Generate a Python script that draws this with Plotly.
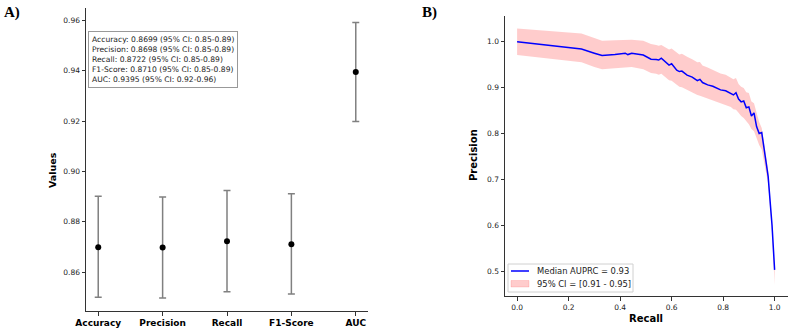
import plotly.graph_objects as go

# ---- Panel A data ----
metrics = ["Accuracy", "Precision", "Recall", "F1-Score", "AUC"]
values = [0.8699, 0.8698, 0.8722, 0.8710, 0.9395]
ci_low = [0.8500, 0.8497, 0.8522, 0.8513, 0.9199]
ci_high = [0.8901, 0.8898, 0.8924, 0.8911, 0.9592]
a_yticks = [0.86, 0.88, 0.90, 0.92, 0.94, 0.96]

# ---- Panel B data ----
recall = [0.00, 0.10, 0.20, 0.25, 0.30, 0.33, 0.38, 0.42, 0.43, 0.445, 0.49, 0.52, 0.54, 0.55, 0.56,
          0.58, 0.59, 0.60, 0.62, 0.63, 0.64, 0.66, 0.68, 0.70, 0.71, 0.72, 0.74, 0.76, 0.78, 0.79,
          0.81, 0.83, 0.84, 0.85, 0.86, 0.87, 0.88, 0.89, 0.90, 0.91, 0.92, 0.93, 0.94, 0.95, 0.96,
          0.97, 0.975, 0.98, 0.99, 1.00]
prec_median = [1.000, 0.994, 0.988, 0.984, 0.975, 0.970, 0.972, 0.975, 0.972, 0.975, 0.971, 0.962, 0.961, 0.960, 0.964,
               0.955, 0.949, 0.952, 0.938, 0.935, 0.936, 0.927, 0.923, 0.915, 0.918, 0.911, 0.906, 0.903, 0.897, 0.895,
               0.893, 0.887, 0.884, 0.889, 0.875, 0.869, 0.871, 0.856, 0.858, 0.838, 0.845, 0.815, 0.800, 0.802, 0.760,
               0.720, 0.706, 0.670, 0.600, 0.503]
prec_low = [0.971, 0.965, 0.959, 0.955, 0.945, 0.940, 0.942, 0.944, 0.943, 0.945, 0.940, 0.932, 0.930, 0.928, 0.930,
            0.921, 0.916, 0.915, 0.905, 0.902, 0.901, 0.895, 0.889, 0.884, 0.882, 0.880, 0.877, 0.873, 0.868, 0.866,
            0.863, 0.858, 0.853, 0.852, 0.845, 0.838, 0.834, 0.827, 0.820, 0.810, 0.805, 0.790, 0.775, 0.765, 0.735,
            0.700, 0.690, 0.655, 0.585, 0.470]
prec_high = [1.029, 1.024, 1.020, 1.018, 1.008, 1.002, 1.003, 1.004, 1.003, 1.004, 1.002, 0.995, 0.993, 0.991, 0.993,
             0.987, 0.983, 0.985, 0.976, 0.972, 0.974, 0.967, 0.962, 0.955, 0.956, 0.948, 0.944, 0.939, 0.933, 0.931,
             0.928, 0.922, 0.918, 0.921, 0.908, 0.902, 0.899, 0.890, 0.888, 0.870, 0.866, 0.845, 0.825, 0.812, 0.780,
             0.740, 0.720, 0.680, 0.610, 0.510]
median_auprc = 0.93
auprc_ci = (0.91, 0.95)
b_xticks = [0.0, 0.2, 0.4, 0.6, 0.8, 1.0]
b_yticks = [0.5, 0.6, 0.7, 0.8, 0.9, 1.0]

W, H = 796, 332
TICKFONT = dict(family="DejaVu Sans", size=7.5, color="#222")
BAND_COLOR = "rgba(255,0,0,0.2)"
LINE_COLOR = "blue"

fig = go.Figure()

# Panel A: points with CI error bars
fig.add_trace(go.Scatter(
    x=metrics, y=values, mode="markers",
    marker=dict(color="black", size=6),
    error_y=dict(type="data", symmetric=False,
                 array=[h - v for h, v in zip(ci_high, values)],
                 arrayminus=[v - l for v, l in zip(values, ci_low)],
                 color="#808080", thickness=1.5, width=3.5),
    showlegend=False, xaxis="x", yaxis="y", hoverinfo="skip"))

# Panel B: CI band + median curve
fig.add_trace(go.Scatter(x=recall, y=prec_low, mode="lines", line=dict(width=0, color="rgba(255,0,0,0)"),
                         showlegend=False, xaxis="x2", yaxis="y2", hoverinfo="skip"))
fig.add_trace(go.Scatter(x=recall, y=prec_high, mode="lines", line=dict(width=0, color="rgba(255,0,0,0)"),
                         fill="tonexty", fillcolor=BAND_COLOR, showlegend=False,
                         xaxis="x2", yaxis="y2", hoverinfo="skip"))
fig.add_trace(go.Scatter(x=recall, y=prec_median, mode="lines", line=dict(color=LINE_COLOR, width=1.5),
                         showlegend=False, xaxis="x2", yaxis="y2", hoverinfo="skip"))

axis_common = dict(showline=True, linecolor="#333", linewidth=1, ticks="outside", ticklen=3.5,
                   tickcolor="#333", tickwidth=1, showgrid=False, zeroline=False, automargin=False,
                   mirror=False)

fig.update_layout(
    width=W, height=H, margin=dict(l=0, r=0, t=0, b=0),
    paper_bgcolor="white", plot_bgcolor="white", showlegend=False,
    xaxis=dict(domain=[86 / W, 368 / W], range=[-0.19, 4.19], anchor="y",
               tickvals=metrics, ticktext=[f"<b>{m}</b>" for m in metrics],
               tickfont=dict(family="DejaVu Sans", size=9, color="black"), **axis_common),
    yaxis=dict(domain=[1 - 311 / H, 1 - 8 / H], range=[0.8445, 0.965], anchor="x",
               tickvals=a_yticks, ticktext=[f"{t:.2f}" for t in a_yticks], tickfont=TICKFONT, **axis_common),
    xaxis2=dict(domain=[505 / W, 788 / W], range=[-0.047, 1.052], anchor="y2",
                tickvals=b_xticks, ticktext=[f"{t:.1f}" for t in b_xticks], tickfont=TICKFONT, **axis_common),
    yaxis2=dict(domain=[1 - 296 / H, 1 - 16 / H], range=[0.446, 1.056], anchor="x2",
                tickvals=b_yticks, ticktext=[f"{t:.1f}" for t in b_yticks], tickfont=TICKFONT, **axis_common),
)

info_lines = [f"{m}: {v:.4f} (95% CI: {l:.2f}-{h:.2f})" for m, v, l, h in zip(metrics, values, ci_low, ci_high)]


def px_x(p):
    return p / W


def px_y(p):
    return 1 - p / H


annotations = [
    dict(text="<br>".join(info_lines), x=px_x(88), y=px_y(31), xanchor="left", yanchor="top", align="left",
         font=dict(family="DejaVu Sans", size=7.6, color="#222"),
         bordercolor="#999", borderwidth=1, borderpad=3, bgcolor="white"),
    dict(text="<b>Values</b>", x=px_x(52), y=px_y(170), textangle=-90,
         font=dict(family="DejaVu Sans", size=9.5, color="black")),
    dict(text="<b>Precision</b>", x=px_x(473), y=px_y(155), textangle=-90,
         font=dict(family="DejaVu Sans", size=10, color="black")),
    dict(text="<b>Recall</b>", x=px_x(646), y=px_y(318),
         font=dict(family="DejaVu Sans", size=10, color="black")),
    dict(text="<b>A)</b>", x=px_x(12), y=px_y(12),
         font=dict(family="Liberation Serif", size=15, color="black")),
    dict(text="<b>B)</b>", x=px_x(429), y=px_y(12),
         font=dict(family="Liberation Serif", size=15, color="black")),
    # manual legend texts
    dict(text=f"Median AUPRC = {median_auprc:.2f}", x=px_x(535), y=px_y(271), xanchor="left",
         font=dict(family="DejaVu Sans", size=8.4, color="#222")),
    dict(text=f"95% CI = [{auprc_ci[0]:.2f} - {auprc_ci[1]:.2f}]", x=px_x(535), y=px_y(283.5), xanchor="left",
         font=dict(family="DejaVu Sans", size=8.4, color="#222")),
]
for a in annotations:
    a.setdefault("xref", "paper")
    a.setdefault("yref", "paper")
    a.setdefault("showarrow", False)
    a.setdefault("xanchor", "center")
    a.setdefault("yanchor", "middle")
fig.update_layout(annotations=annotations)

# manual legend frame and symbols
shapes = [
    dict(type="rect", x0=px_x(508), x1=px_x(633), y0=px_y(292), y1=px_y(264),
         line=dict(color="#d0d0d0", width=1), fillcolor="rgba(255,255,255,0.8)", layer="above"),
    dict(type="line", x0=px_x(511), x1=px_x(529), y0=px_y(271), y1=px_y(271),
         line=dict(color=LINE_COLOR, width=1.5), layer="above"),
    dict(type="rect", x0=px_x(511), x1=px_x(529), y0=px_y(287), y1=px_y(280.5),
         line=dict(color="rgba(255,0,0,0.25)", width=0.5), fillcolor=BAND_COLOR, layer="above"),
]
for s in shapes:
    s["xref"] = "paper"
    s["yref"] = "paper"
fig.update_layout(shapes=shapes)

fig.write_html("out.html", config={"displayModeBar": False},
               post_script="document.body.style.margin='0';document.body.style.padding='0';")
